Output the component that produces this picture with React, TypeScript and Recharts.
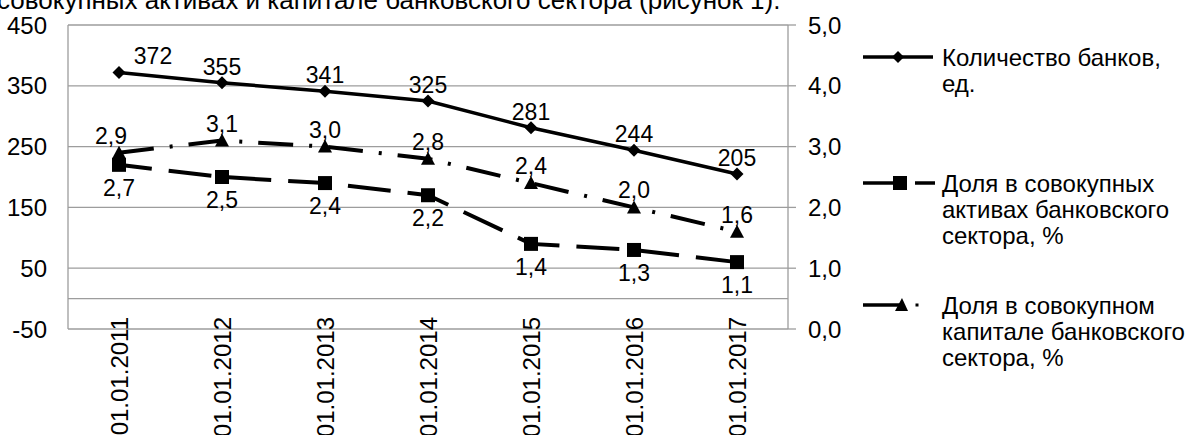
import React from "react";
import {
  LineChart,
  Line,
  XAxis,
  YAxis,
  CartesianGrid,
  ReferenceLine,
  LabelList,
  Legend,
} from "recharts";

const dates = [
  "01.01.2011",
  "01.01.2012",
  "01.01.2013",
  "01.01.2014",
  "01.01.2015",
  "01.01.2016",
  "01.01.2017",
];
const bankCount = [372, 355, 341, 325, 281, 244, 205];
const assetsShare = [2.7, 2.5, 2.4, 2.2, 1.4, 1.3, 1.1];
const capitalShare = [2.9, 3.1, 3.0, 2.8, 2.4, 2.0, 1.6];
const leftTicks = [-50, 50, 150, 250, 350, 450];
const rightTicks = [0, 1, 2, 3, 4, 5];
const seriesKeys = ["banks", "assets", "capital"];
const seriesNames = [
  "Количество банков, ед.",
  "Доля в совокупных активах банковского сектора, %",
  "Доля в совокупном капитале банковского сектора, %",
];
const caption = "совокупных активах и капитале банковского сектора (рисунок 1).";

const data = dates.map((date, i) => ({
  date,
  banks: bankCount[i],
  assets: assetsShare[i],
  capital: capitalShare[i],
}));

const FONT = "'Liberation Sans', Arial, sans-serif";
const GRAY = "#9d9d9d";
const fmt = (v: number) => v.toFixed(1).replace(".", ",");

const diamondDot = (p: any) => (
  <path
    key={`d${p.index}`}
    d={`M${p.cx},${p.cy - 6.5} L${p.cx + 6.5},${p.cy} L${p.cx},${p.cy + 6.5} L${p.cx - 6.5},${p.cy} Z`}
    fill="#000"
  />
);
const squareDot = (p: any) => (
  <rect key={`s${p.index}`} x={p.cx - 7} y={p.cy - 7} width={14} height={14} fill="#000" />
);
const triangleDot = (p: any) => (
  <path
    key={`t${p.index}`}
    d={`M${p.cx},${p.cy - 7} L${p.cx + 7},${p.cy + 6} L${p.cx - 7},${p.cy + 6} Z`}
    fill="#000"
  />
);

const bankLabel = (p: any) => (
  <text
    x={p.x + (p.index === 0 ? 34 : 0)}
    y={p.y - 8}
    textAnchor="middle"
    fontSize={23}
    fontFamily={FONT}
    fill="#000"
  >
    {p.value}
  </text>
);
const assetsLabel = (p: any) => (
  <text x={p.x} y={p.y + 31} textAnchor="middle" fontSize={23} fontFamily={FONT} fill="#000">
    {fmt(p.value)}
  </text>
);
const capitalLabel = (p: any) => (
  <text
    x={p.x + (p.index === 0 ? -8 : 0)}
    y={p.y - 9}
    textAnchor="middle"
    fontSize={23}
    fontFamily={FONT}
    fill="#000"
  >
    {fmt(p.value)}
  </text>
);

const DateTick = (p: any) => (
  <text
    transform={`translate(${p.x},${p.y - 12}) rotate(-90)`}
    textAnchor="end"
    dy="0.36em"
    fontSize={24}
    fontFamily={FONT}
    fill="#000"
  >
    {p.payload.value}
  </text>
);

const legendIcon = (key: string) => {
  if (key === "banks") {
    return (
      <svg width={80} height={20}>
        <line x1={1} y1={10} x2={71} y2={10} stroke="#000" strokeWidth={3.5} />
        <path d="M36,4 L42,10 L36,16 L30,10 Z" fill="#000" />
      </svg>
    );
  }
  if (key === "assets") {
    return (
      <svg width={80} height={20}>
        <line x1={1} y1={10} x2={32} y2={10} stroke="#000" strokeWidth={3.5} />
        <rect x={31} y={3} width={14} height={14} fill="#000" />
        <line x1={53} y1={10} x2={73} y2={10} stroke="#000" strokeWidth={3.5} />
      </svg>
    );
  }
  return (
    <svg width={80} height={20}>
      <line x1={1} y1={10} x2={38} y2={10} stroke="#000" strokeWidth={3.5} />
      <path d="M40,3 L46,16 L33,16 Z" fill="#000" />
      <rect x={53.5} y={8.5} width={3} height={3} fill="#000" />
    </svg>
  );
};

const legendTops = [45, 171, 293];

const renderLegend = () => (
  <div style={{ position: "relative", width: 324, height: 435, fontFamily: FONT }}>
    {seriesKeys.map((key, i) => (
      <div
        key={key}
        style={{
          position: "absolute",
          left: 0,
          top: legendTops[i],
          display: "flex",
          alignItems: "flex-start",
        }}
      >
        <div style={{ marginTop: 2, width: 80, height: 20 }}>{legendIcon(key)}</div>
        <div style={{ width: 246, fontSize: 24, lineHeight: "26px", color: "#000" }}>
          {seriesNames[i]}
        </div>
      </div>
    ))}
  </div>
);

export default function App() {
  return (
    <div
      style={{
        position: "absolute",
        left: 0,
        top: 0,
        width: 1186,
        height: 435,
        overflow: "hidden",
        background: "#fff",
        fontFamily: FONT,
      }}
    >
      <div
        style={{
          position: "absolute",
          left: -3,
          top: -15,
          fontSize: 26,
          whiteSpace: "nowrap",
          color: "#000",
        }}
      >
        {caption}
      </div>
      <div style={{ position: "absolute", left: 0, top: 0 }}>
        <LineChart
          width={1186}
          height={435}
          data={data}
          margin={{ top: 25, right: 338, bottom: 0, left: 0 }}
          style={{ fontFamily: FONT }}
        >
          <CartesianGrid yAxisId="left" vertical={false} stroke={GRAY} strokeWidth={1.3} />
          <XAxis
            dataKey="date"
            height={106}
            padding={{ left: 51, right: 51 }}
            axisLine={false}
            tickLine={false}
            tickSize={0}
            tickMargin={0}
            interval={0}
            tick={<DateTick />}
          />
          <YAxis
            yAxisId="left"
            orientation="left"
            width={68}
            domain={[-50, 450]}
            ticks={leftTicks}
            interval={0}
            axisLine={{ stroke: GRAY, strokeWidth: 1.3 }}
            tickLine={false}
            tickSize={0}
            tickMargin={21}
            tick={{ fontSize: 24, fill: "#000", fontFamily: FONT }}
          />
          <YAxis
            yAxisId="right"
            orientation="right"
            width={60}
            domain={[0, 5]}
            ticks={rightTicks}
            interval={0}
            axisLine={{ stroke: GRAY, strokeWidth: 1.3 }}
            tickLine={{ stroke: GRAY, strokeWidth: 1.3 }}
            tickSize={8}
            tickMargin={12}
            tickFormatter={fmt}
            tick={{ fontSize: 24, fill: "#000", fontFamily: FONT, textAnchor: "start" }}
          />
          <ReferenceLine yAxisId="left" y={0} stroke={GRAY} strokeWidth={1.3} />
          <Legend
            content={renderLegend}
            layout="vertical"
            align="center"
            verticalAlign="middle"
            wrapperStyle={{ position: "absolute", left: 862, top: 0, width: 324, height: 435 }}
          />
          <Line
            yAxisId="left"
            type="linear"
            dataKey="banks"
            name={seriesNames[0]}
            stroke="#000"
            strokeWidth={3.5}
            dot={diamondDot}
            activeDot={false}
            isAnimationActive={false}
          >
            <LabelList dataKey="banks" content={bankLabel} />
          </Line>
          <Line
            yAxisId="right"
            type="linear"
            dataKey="assets"
            name={seriesNames[1]}
            stroke="#000"
            strokeWidth={4}
            strokeDasharray="43 17"
            strokeDashoffset={10}
            dot={squareDot}
            activeDot={false}
            isAnimationActive={false}
          >
            <LabelList dataKey="assets" content={assetsLabel} />
          </Line>
          <Line
            yAxisId="right"
            type="linear"
            dataKey="capital"
            name={seriesNames[2]}
            stroke="#000"
            strokeWidth={4}
            strokeDasharray="35 16 3 16"
            dot={triangleDot}
            activeDot={false}
            isAnimationActive={false}
          >
            <LabelList dataKey="capital" content={capitalLabel} />
          </Line>
        </LineChart>
      </div>
    </div>
  );
}
